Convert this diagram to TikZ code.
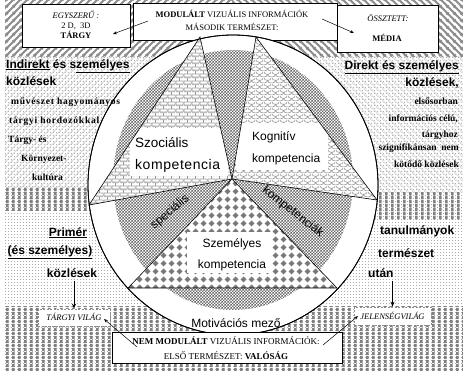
\documentclass[tikz,border=0pt]{standalone}
\usepackage{fontspec}
\setmainfont{Liberation Serif}
\setsansfont{Liberation Sans}
\usetikzlibrary{patterns,arrows.meta}
\definecolor{barc}{gray}{0.5}
\definecolor{diagc}{gray}{0.55}
\definecolor{lightc}{gray}{0.86}
\definecolor{dotc}{gray}{0.68}
\definecolor{chk}{gray}{0.42}
\definecolor{brk}{gray}{0.6}
\definecolor{scl}{gray}{0.6}
\definecolor{dia}{gray}{0.47}
\pgfdeclarepatternformonly{dotsq}{\pgfqpoint{0pt}{0pt}}{\pgfqpoint{2.5pt}{2.5pt}}{\pgfqpoint{2.5pt}{2.5pt}}{%
 \pgfpathrectangle{\pgfqpoint{0pt}{0pt}}{\pgfqpoint{1pt}{1pt}}\pgfusepath{fill}}
\pgfdeclarepatternformonly{vbars}{\pgfqpoint{0pt}{0pt}}{\pgfqpoint{5.6pt}{4pt}}{\pgfqpoint{5.6pt}{4pt}}{%
 \pgfpathrectangle{\pgfqpoint{0pt}{0pt}}{\pgfqpoint{2.7pt}{4pt}}\pgfusepath{fill}}
\pgfdeclarepatternformonly{diagR}{\pgfqpoint{0pt}{0pt}}{\pgfqpoint{7pt}{7pt}}{\pgfqpoint{7pt}{7pt}}{%
 \pgfsetlinewidth{2.2pt}%
 \pgfpathmoveto{\pgfqpoint{-1pt}{-1pt}}\pgfpathlineto{\pgfqpoint{8pt}{8pt}}%
 \pgfpathmoveto{\pgfqpoint{-1pt}{6pt}}\pgfpathlineto{\pgfqpoint{1pt}{8pt}}%
 \pgfpathmoveto{\pgfqpoint{6pt}{-1pt}}\pgfpathlineto{\pgfqpoint{8pt}{1pt}}%
 \pgfusepath{stroke}}
\pgfdeclarepatternformonly{diagL}{\pgfqpoint{0pt}{0pt}}{\pgfqpoint{7pt}{7pt}}{\pgfqpoint{7pt}{7pt}}{%
 \pgfsetlinewidth{2.2pt}%
 \pgfpathmoveto{\pgfqpoint{8pt}{-1pt}}\pgfpathlineto{\pgfqpoint{-1pt}{8pt}}%
 \pgfpathmoveto{\pgfqpoint{8pt}{6pt}}\pgfpathlineto{\pgfqpoint{6pt}{8pt}}%
 \pgfpathmoveto{\pgfqpoint{1pt}{-1pt}}\pgfpathlineto{\pgfqpoint{-1pt}{1pt}}%
 \pgfusepath{stroke}}
\pgfdeclarepatternformonly{diagRl}{\pgfqpoint{0pt}{0pt}}{\pgfqpoint{6pt}{6pt}}{\pgfqpoint{6pt}{6pt}}{%
 \pgfsetlinewidth{1pt}%
 \pgfpathmoveto{\pgfqpoint{-1pt}{-1pt}}\pgfpathlineto{\pgfqpoint{7pt}{7pt}}%
 \pgfpathmoveto{\pgfqpoint{-1pt}{5pt}}\pgfpathlineto{\pgfqpoint{1pt}{7pt}}%
 \pgfpathmoveto{\pgfqpoint{5pt}{-1pt}}\pgfpathlineto{\pgfqpoint{7pt}{1pt}}%
 \pgfusepath{stroke}}
\pgfdeclarepatternformonly{diagLl}{\pgfqpoint{0pt}{0pt}}{\pgfqpoint{6pt}{6pt}}{\pgfqpoint{6pt}{6pt}}{%
 \pgfsetlinewidth{1pt}%
 \pgfpathmoveto{\pgfqpoint{7pt}{-1pt}}\pgfpathlineto{\pgfqpoint{-1pt}{7pt}}%
 \pgfpathmoveto{\pgfqpoint{7pt}{5pt}}\pgfpathlineto{\pgfqpoint{5pt}{7pt}}%
 \pgfpathmoveto{\pgfqpoint{1pt}{-1pt}}\pgfpathlineto{\pgfqpoint{-1pt}{1pt}}%
 \pgfusepath{stroke}}
\pgfdeclarepatternformonly{finechk}{\pgfqpoint{0pt}{0pt}}{\pgfqpoint{3.4pt}{3.4pt}}{\pgfqpoint{3.4pt}{3.4pt}}{%
 \pgfpathrectangle{\pgfqpoint{0pt}{0pt}}{\pgfqpoint{1.7pt}{1.7pt}}%
 \pgfpathrectangle{\pgfqpoint{1.7pt}{1.7pt}}{\pgfqpoint{1.7pt}{1.7pt}}%
 \pgfusepath{fill}}
\pgfdeclarepatternformonly{brickp}{\pgfqpoint{0pt}{0pt}}{\pgfqpoint{8pt}{7pt}}{\pgfqpoint{8pt}{7pt}}{%
 \pgfsetlinewidth{0.9pt}%
 \pgfpathmoveto{\pgfqpoint{0pt}{0pt}}\pgfpathlineto{\pgfqpoint{8pt}{0pt}}%
 \pgfpathmoveto{\pgfqpoint{0pt}{3.5pt}}\pgfpathlineto{\pgfqpoint{8pt}{3.5pt}}%
 \pgfpathmoveto{\pgfqpoint{0pt}{7pt}}\pgfpathlineto{\pgfqpoint{8pt}{7pt}}%
 \pgfpathmoveto{\pgfqpoint{0pt}{0pt}}\pgfpathlineto{\pgfqpoint{0pt}{3.5pt}}%
 \pgfpathmoveto{\pgfqpoint{8pt}{0pt}}\pgfpathlineto{\pgfqpoint{8pt}{3.5pt}}%
 \pgfpathmoveto{\pgfqpoint{4pt}{3.5pt}}\pgfpathlineto{\pgfqpoint{4pt}{7pt}}%
 \pgfusepath{stroke}}
\pgfdeclarepatternformonly{scalep}{\pgfqpoint{0pt}{0pt}}{\pgfqpoint{8pt}{6pt}}{\pgfqpoint{8pt}{6pt}}{%
 \pgfsetlinewidth{0.7pt}%
 \pgfpathmoveto{\pgfqpoint{0pt}{6pt}}\pgfpatharc{180}{360}{4pt and 3pt}%
 \pgfpathmoveto{\pgfqpoint{-4pt}{3pt}}\pgfpatharc{180}{360}{4pt and 3pt}%
 \pgfpathmoveto{\pgfqpoint{4pt}{3pt}}\pgfpatharc{180}{360}{4pt and 3pt}%
 \pgfusepath{stroke}}
\pgfdeclarepatternformonly{diamp}{\pgfqpoint{0pt}{0pt}}{\pgfqpoint{8pt}{8pt}}{\pgfqpoint{8pt}{8pt}}{%
 \pgfpathmoveto{\pgfqpoint{4pt}{0.7pt}}\pgfpathlineto{\pgfqpoint{7.3pt}{4pt}}%
 \pgfpathlineto{\pgfqpoint{4pt}{7.3pt}}\pgfpathlineto{\pgfqpoint{0.7pt}{4pt}}\pgfpathclose
 \pgfusepath{fill}}
\begin{document}
\begin{tikzpicture}[x=1pt,y=-1pt,
 frame/.style={draw=black,line width=0.8pt,fill=white},
 tx/.style={inner sep=0pt},
 boxt/.style={tx,font=\fontsize{8.5}{10}\selectfont},
 bigs/.style={tx,font=\sffamily\bfseries\fontsize{12}{14}\selectfont},
 smb/.style={tx,font=\bfseries\fontsize{9.5}{11}\selectfont},
 wsmb/.style={tx,font=\bfseries\fontsize{9.5}{11}\selectfont\addfontfeature{LetterSpace=8}},
 lab/.style={tx,font=\sffamily\fontsize{12}{14}\selectfont},
 blab/.style={tx,font=\sffamily\fontsize{13.5}{15}\selectfont},
 tri/.style={draw=black,line width=0.6pt},
 thinarr/.style={line width=0.5pt,-{Stealth[length=4pt,width=3pt]}},
 bigarr/.style={line width=1pt,-{Stealth[length=5pt,width=4pt]}},
 vbox/.style={fill=white,draw=black!45,line width=0.8pt,dash pattern=on 2pt off 1.5pt}]
\useasboundingbox (0,0) rectangle (463,370);
\fill[white] (0,0) rectangle (463,370);
% backgrounds
\fill[pattern=diagR,pattern color=diagc] (5,0) rectangle (232,56);
\fill[pattern=diagL,pattern color=diagc] (232,0) rectangle (463,56);
\fill[pattern=dotsq,pattern color=dotc] (5,56) rectangle (463,370);
\fill[pattern=diagRl,pattern color=lightc] (5,56) rectangle (232,187);
\fill[pattern=diagLl,pattern color=lightc] (232,56) rectangle (463,192);
\fill[pattern=vbars,pattern color=barc] (5,187) rectangle (232,210);
\fill[pattern=vbars,pattern color=barc] (232,192) rectangle (463,219);
\fill[pattern=vbars,pattern color=barc] (5,306) rectangle (463,370);
% top boxes
\node[frame,minimum width=108pt,minimum height=43pt] (egy) at (76,25.5) {};
\node[frame,minimum width=204pt,minimum height=37pt] (mod) at (235,21.5) {};
\node[frame,minimum width=101pt,minimum height=47pt] (med) at (387.5,28.5) {};
\node[boxt,anchor=base] (egy1) at (76,18) {\itshape EGYSZERŰ :};
\node[boxt,anchor=base] (egy2) at (76,28) {2 D,\ \ 3D};
\node[boxt,anchor=base] (egy3) at (76,38) {\bfseries TÁRGY};
\node[boxt,anchor=base] (mod1) at (232,17.5) {\textbf{MODULÁLT} VIZUÁLIS INFORMÁCIÓK};
\node[boxt,anchor=base] (mod2) at (232,30) {MÁSODIK TERMÉSZET:};
\node[boxt,anchor=base] (med1) at (388,21) {\itshape ÖSSZTETT:};
\node[boxt,anchor=base] (med2) at (387,41) {\bfseries MÉDIA};
% circle
\coordinate (ctr) at (233,185);
\filldraw[fill=white,line width=0.8pt] (ctr) ellipse [x radius=145,y radius=150];
\coordinate (ictr) at (233,180);
\fill[pattern=finechk,pattern color=chk] (ictr) ellipse [x radius=120,y radius=130];
% triangles
\coordinate (C) at (232,179);
\coordinate (sa) at (200,37); \coordinate (sb) at (89,205);
\coordinate (ka) at (256,37); \coordinate (kb) at (377,200);
\coordinate (pa) at (128,288); \coordinate (pb) at (337,288);
\fill[white] (sa)--(sb)--(C)--cycle;
\fill[pattern=brickp,pattern color=brk] (sa)--(sb)--(C)--cycle;
\begin{scope}\clip (sa)--(sb)--(C)--cycle; \fill[white] (130,128) rectangle (228,176); \end{scope}
\draw[tri] (sa)--(sb)--(C)--cycle;
\fill[white] (ka)--(C)--(kb)--cycle;
\fill[pattern=scalep,pattern color=scl] (ka)--(C)--(kb)--cycle;
\begin{scope}\clip (ka)--(C)--(kb)--cycle; \fill[white] (236,123) rectangle (328,170); \end{scope}
\draw[tri] (ka)--(C)--(kb)--cycle;
\fill[white] (C)--(pa)--(pb)--cycle;
\fill[pattern=diamp,pattern color=dia] (C)--(pa)--(pb)--cycle;
\fill[white] (187,232) rectangle (271,273);
\draw[tri] (C)--(pa)--(pb)--cycle;
\draw[line width=0.8pt] (ctr) ellipse [x radius=145,y radius=150];
% labels in circle
\node[blab,anchor=base west] (sz1) at (135,147.5) {Szociális};
\node[blab,anchor=base west] (sz2) at (135,169.5) {\fontsize{14}{16}\selectfont\addfontfeature{LetterSpace=4}kompetencia};
\node[lab,anchor=base west] (kg1) at (252,140.5) {Kognitív};
\node[lab,anchor=base west] (kg2) at (252,162.5) {kompetencia};
\node[lab,anchor=base] (sm1) at (232,247.5) {Személyes};
\node[lab,anchor=base] (sm2) at (232,268.5) {kompetencia};
\node[lab,rotate=40] (spec) at (170,212) {speciális};
\node[lab,rotate=-38] (komp) at (293,212) {kompetenciák};
\node[lab] (mot) at (236,323) {Motivációs mező};
% bottom boxes
\node[draw=black,line width=1pt,fill=white,minimum width=230pt,minimum height=31pt] (nem) at (227,347.5) {};
\node[tx,font=\fontsize{9}{11}\selectfont,anchor=base] (nem1) at (226,344) {\textbf{NEM MODULÁLT} VIZUÁLIS INFORMÁCIÓK:};
\node[tx,font=\fontsize{9}{11}\selectfont,anchor=base] (nem2) at (226,359) {ELSŐ TERMÉSZET: \textbf{VALÓSÁG}};
\node[vbox,minimum width=72pt,minimum height=17pt] (tv) at (74,317.5) {};
\node[boxt,anchor=base] (tvt) at (74,320.5) {\itshape TÁRGYI VILÁG};
\node[vbox,minimum width=77pt,minimum height=18pt] (jv) at (392.5,316) {};
\node[boxt,anchor=base] (jvt) at (392.5,319) {\itshape JELENSÉGVILÁG};
% side texts
\node[bigs,anchor=base west] (ind1) at (6,68) {\underline{Indirekt} és s\underline{zemélyes}};
\node[bigs,anchor=base west] (ind2) at (6,85) {közlések};
\node[wsmb,anchor=base west] (l1) at (11,104.5) {művészet hagyományos};
\node[wsmb,anchor=base west] (l2) at (9,123.5) {tárgyi hordozókkal};
\node[smb,anchor=base west] (l3) at (8,142.5) {Tárgy- és};
\node[smb,anchor=base west] (l4) at (21,161.5) {Környezet-};
\node[smb,anchor=base west] (l5) at (32,180.5) {kultúra};
\node[bigs,anchor=base east] (dir1) at (459,69) {\underline{Direkt és személyes}};
\node[bigs,anchor=base east] (dir2) at (459,86) {közlések,};
\node[smb,anchor=base east] (r1) at (458,104.5) {elsősorban};
\node[smb,anchor=base east] (r2) at (458,121.5) {információs célú,};
\node[smb,anchor=base east] (r3) at (458,137.5) {tárgyhoz};
\node[smb,anchor=base east] (r4) at (459,150.5) {szignifikánsan\ \ nem};
\node[smb,anchor=base east] (r5) at (459,167.5) {kötődő közlések};
\node[bigs,anchor=base] (pr1) at (68,236) {\underline{Primér}};
\node[bigs,anchor=base] (pr2) at (50,254) {\underline{(és személyes)}};
\node[bigs,anchor=base] (kozl) at (72,277) {közlések};
\node[bigs,anchor=base west] (tn1) at (380,234) {tanulmányok};
\node[bigs,anchor=base west] (tn2) at (378,257) {természet};
\node[bigs,anchor=base west] (utan) at (368,277) {után};
% arrows
\coordinate (t1) at (148,21); \coordinate (t2) at (113,34);
\coordinate (t3) at (322,19); \coordinate (t4) at (354,33);
\draw[thinarr] (t1) -- (t2);
\draw[thinarr] (t3) -- (t4);
\coordinate (b1) at (137,347); \coordinate (b2) at (104,319);
\coordinate (b3) at (323,345); \coordinate (b4) at (358,316);
\draw[thinarr] (b1) -- (b2);
\draw[thinarr] (b3) -- (b4);
\draw[bigarr,shorten <=4pt] (kozl.south -| tv.north) -- (tv.north);
\draw[bigarr,shorten <=4pt] (utan.south -| jv.north) -- (jv.north);
\end{tikzpicture}
\end{document}
